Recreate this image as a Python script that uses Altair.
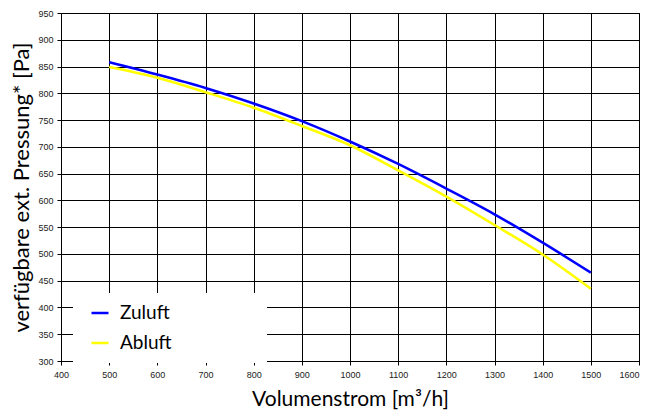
import altair as alt
import pandas as pd

volumenstrom = [500, 600, 700, 800, 900, 1000, 1100, 1200, 1300, 1400, 1500]
zuluft = [858, 835, 810, 781, 748, 710, 668, 622, 574, 521, 465]
abluft = [849, 829, 802, 773, 739, 703, 656, 607, 554, 499, 435]
series_names = ["Zuluft", "Abluft"]
series_colors = ["#0000ff", "#ffff00"]
x_ticks = list(range(400, 1601, 100))
y_ticks = list(range(300, 951, 50))

rows = []
for name, vals in zip(series_names, [zuluft, abluft]):
    for v, p in zip(volumenstrom, vals):
        rows.append({"Volumenstrom": v, "Pressung": p, "Serie": name})
df = pd.DataFrame(rows)

lines = alt.Chart(df).mark_line(strokeWidth=2.5, interpolate="monotone").encode(
    x=alt.X("Volumenstrom:Q",
            scale=alt.Scale(domain=[400, 1600], nice=False, zero=False),
            axis=alt.Axis(values=x_ticks, format="d", title="Volumenstrom [m³/h]",
                          labelFlush=False, labelOverlap=False,
                          labelAlign=alt.ExprRef(expr="datum.value >= 1600 ? 'right' : 'center'"),
                          tickSize=4, labelPadding=5, titlePadding=9,
                          titleFontSize=21)),
    y=alt.Y("Pressung:Q",
            scale=alt.Scale(domain=[300, 950], nice=False, zero=False),
            axis=alt.Axis(values=y_ticks, format="d", title="verfügbare ext. Pressung* [Pa]",
                          labelOverlap=False, labelFlush=False,
                          tickSize=4, labelPadding=4, titlePadding=4,
                          titleFontSize=22)),
    color=alt.Color("Serie:N",
                    scale=alt.Scale(domain=series_names, range=series_colors),
                    legend=alt.Legend(title=None, orient="none", legendX=29, legendY=290,
                                      symbolType="stroke", symbolSize=289,
                                      symbolStrokeWidth=2.5, labelOffset=10,
                                      labelFont="Lato", labelFontSize=19,
                                      labelColor="black", rowPadding=10, padding=0)),
)

legend_bg = alt.Chart(alt.Data(values=[{}])).mark_rect(color="white").encode(
    x=alt.value(12), x2=alt.value(206), y=alt.value(280), y2=alt.value(350)
)

chart = alt.layer(lines, legend_bg).properties(
    width=578, height=348,
    autosize=alt.AutoSizeParams(type="none"),
    padding={"left": 53, "top": 5, "right": 2, "bottom": 55},
).configure_axis(
    domainColor="black", gridColor="black", gridOpacity=1, gridWidth=1,
    tickColor="black", labelFont="Liberation Sans", labelFontSize=9,
    labelColor="#222222", titleFont="Lato",
    titleFontWeight="normal", titleColor="black",
).configure_view(stroke="black", strokeWidth=1)

chart.save("out.html", embed_options={"renderer": "svg", "actions": False})
